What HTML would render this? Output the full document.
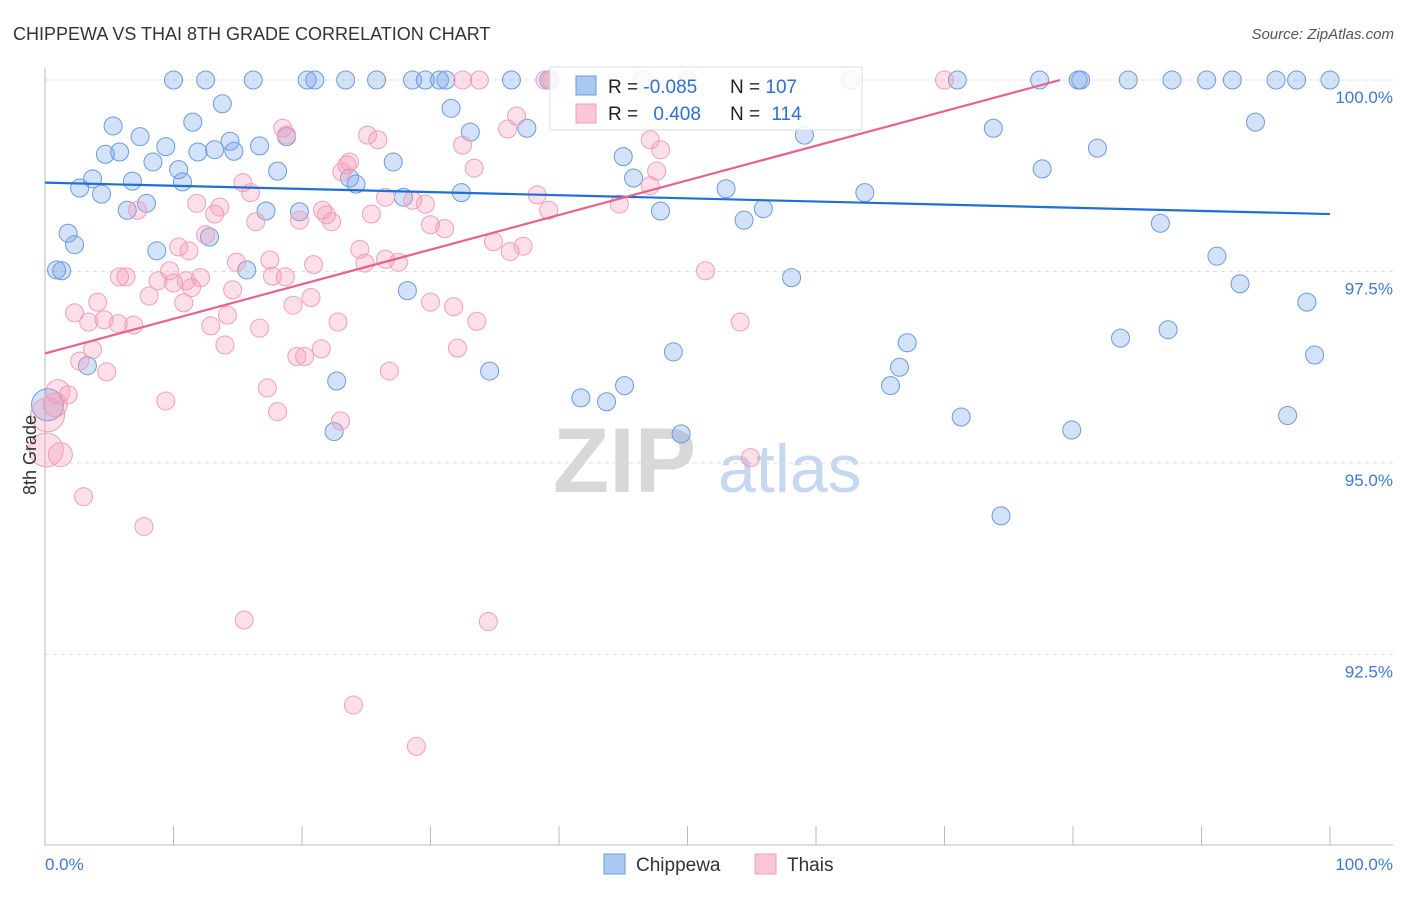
<!DOCTYPE html>
<html><head><meta charset="utf-8"><style>
body{margin:0;background:#fff;font-family:"Liberation Sans",sans-serif}
svg text{font-family:"Liberation Sans",sans-serif}
</style></head><body>
<svg id="c" width="1406" height="892" xmlns="http://www.w3.org/2000/svg">
<text x="13" y="40" font-size="18" fill="#333">CHIPPEWA VS THAI 8TH GRADE CORRELATION CHART</text>
<text x="1394" y="39" font-size="15" fill="#555" text-anchor="end" font-style="italic">Source: ZipAtlas.com</text>
<g>
<text x="553" y="492" font-size="92" fill="#d8d8d8" font-family="Liberation Serif" font-weight="bold">ZIP</text>
<text x="718" y="492" font-size="68" fill="#c6d8f0">atlas</text>
</g>
<g id="grid"></g><g id="axes"></g><g id="pts"></g><g id="lines"></g>
<text x="36" y="455" font-size="18" fill="#333" text-anchor="middle" transform="rotate(-90 36 455)" dy="0">8th Grade</text>
<g>
<rect x="550" y="67" width="312" height="63" fill="#fff" fill-opacity="0.85" stroke="#ddd"/>
<rect x="576" y="76" width="20" height="19" fill="#aac8f2" stroke="#6a9be0"/>
<rect x="576" y="104" width="20" height="19" fill="#fbc6d6" stroke="#f0a0b8"/>
<text x="608" y="93" font-size="19" fill="#222">R = <tspan fill="#2f6fd0">-0.085</tspan></text>
<text x="730" y="93" font-size="19" fill="#222">N = <tspan fill="#2f6fd0">107</tspan></text>
<text x="608" y="120" font-size="19" fill="#222">R = <tspan fill="#2f6fd0" dx="10">0.408</tspan></text>
<text x="730" y="120" font-size="19" fill="#222">N = <tspan fill="#2f6fd0" dx="6">114</tspan></text>
</g>
<g>
<rect x="604" y="854" width="21" height="20" fill="#aac8f2" stroke="#6a9be0"/>
<text x="636" y="871" font-size="19" fill="#333">Chippewa</text>
<rect x="755" y="854" width="21" height="20" fill="#fbc6d6" stroke="#f0a0b8"/>
<text x="787" y="871" font-size="19" fill="#333">Thais</text>
</g>
</svg>
<script>
const yTicks=[100,97.5,95,92.5];
const yTickLabels=["100.0%","97.5%","95.0%","92.5%"];
const xTicks=[0,10,20,30,40,50,60,70,80,90,100];
const chipX=[10,12.5,16.2,20.4,21.0,23.4,25.8,28.6,29.6,30.7,31.2,36.3,39.2,46.5,50,62.7,71.0,77.4,80.4,80.6,84.3,87.7,90.4,92.4,95.8,97.4,100,
13.8,5.3,11.5,31.6,7.4,4.7,5.8,9.4,11.9,13.2,14.4,14.7,16.7,18.8,33.1,37.5,8.4,10.4,10.7,3.7,2.7,4.4,6.8,7.9,6.4,17.2,18.1,19.8,23.7,24.2,27.1,27.9,32.4,45.0,45.8,47.9,53.0,54.4,55.9,59.1,63.8,73.8,77.6,81.9,86.8,91.2,94.2,93.0,98.2,98.8,87.4,83.7,67.1,66.5,65.8,71.3,74.4,79.9,96.7,1.8,2.3,8.7,12.8,15.7,0.9,1.3,28.2,58.1,48.9,41.7,43.7,45.1,49.5,34.6,22.7,22.5,3.3,0.2];
const chipY=[100,100,100,100,100,100,100,100,100,100,100,100,100,100,100,100,100,100,100,100,100,100,100,100,100,100,100,
99.69,99.40,99.45,99.63,99.26,99.03,99.06,99.13,99.06,99.09,99.20,99.07,99.14,99.26,99.32,99.37,98.93,98.83,98.67,98.71,98.59,98.51,98.68,98.39,98.30,98.29,98.81,98.28,98.72,98.64,98.93,98.47,98.53,99.00,98.72,98.29,98.58,98.17,98.32,99.28,98.53,99.37,98.84,99.11,98.13,97.70,99.45,97.34,97.10,96.41,96.74,96.63,96.57,96.25,96.01,95.60,94.31,95.43,95.62,98.00,97.85,97.77,97.95,97.52,97.52,97.51,97.25,97.42,96.45,95.85,95.80,96.01,95.38,96.20,96.07,95.41,96.27,95.76];
const thaiX=[32.5,33.8,38.9,39.4,50.0,70.0,36.7,36.0,32.5,33.4,25.9,25.1,23.5,23.7,23.1,18.5,18.8,47.1,47.9,47.6,47.1,44.7,38.3,39.2,26.5,25.4,28.6,29.6,15.4,16.0,11.8,13.2,13.6,16.4,19.8,21.6,21.9,22.3,30.0,31.1,12.5,10.4,11.2,24.5,24.9,26.5,27.5,34.9,36.2,37.2,7.2,5.8,6.3,9.7,8.8,10.0,11.0,12.1,14.9,17.5,18.7,17.7,20.9,4.1,2.3,3.4,4.6,5.7,6.9,8.1,11.4,10.8,14.6,19.3,20.7,30.0,31.8,33.6,22.8,16.7,12.9,14.2,14.0,3.7,2.7,4.8,21.5,20.2,19.6,17.3,18.1,26.8,32.1,9.4,1.8,1.0,0.8,0.2,1.2,0.1,3.0,7.7,23.0,15.5,34.5,24.0,28.9,54.9,51.4,54.1];
const thaiY=[100,100,100,100,100,100,99.53,99.36,99.15,98.85,99.22,99.28,98.89,98.93,98.80,99.37,99.28,99.22,99.09,98.81,98.62,98.38,98.50,98.30,98.47,98.25,98.43,98.38,98.66,98.53,98.39,98.25,98.34,98.15,98.17,98.30,98.24,98.15,98.11,98.06,97.98,97.82,97.77,97.79,97.61,97.66,97.62,97.89,97.76,97.83,98.30,97.43,97.43,97.51,97.38,97.35,97.38,97.42,97.62,97.65,97.43,97.44,97.59,97.10,96.96,96.84,96.87,96.82,96.80,97.18,97.29,97.09,97.26,97.06,97.16,97.10,97.04,96.85,96.84,96.76,96.79,96.93,96.54,96.48,96.33,96.19,96.49,96.39,96.39,95.98,95.67,96.20,96.50,95.81,95.89,95.93,95.76,95.63,95.11,95.17,94.56,94.17,95.55,92.95,92.93,91.84,91.30,95.07,97.51,96.84];
const chipTrend=[98.66,98.25];
const thaiTrend=[96.43,100.0,79];
const NS="http://www.w3.org/2000/svg";
const X=v=>45+v*12.85, Y=v=>80+(100-v)*76.6;
function mk(t,a,p){const e=document.createElementNS(NS,t);for(const k in a)e.setAttribute(k,a[k]);p.appendChild(e);return e;}
const grid=document.getElementById('grid'),axes=document.getElementById('axes'),pts=document.getElementById('pts'),lines=document.getElementById('lines');
yTicks.forEach((v,i)=>{
 const l=mk('line',{x1:45,x2:1393,y1:Y(v),y2:Y(v),stroke:'#ddd','stroke-dasharray':'4,4'},grid);
 
 
 const t=mk('text',{x:1393,y:Y(v)+23,'font-size':17,fill:'#3f78d4','text-anchor':'end'},axes);
 t.textContent=yTickLabels[i];
 
 
});
const ax=mk('line',{x1:45,x2:1393,y1:845,y2:845,stroke:'#bbb'},axes);


const ay=mk('line',{x1:45,x2:45,y1:68,y2:845,stroke:'#bbb'},axes);


xTicks.forEach(v=>{
 const l=mk('line',{x1:X(v),x2:X(v),y1:826,y2:845,stroke:'#bbb'},axes);
 
 
});
[[0,'0.0%','start',45],[100,'100.0%','end',1393]].forEach(d=>{
 const t=mk('text',{x:d[3],y:870,'font-size':17,fill:'#3f78d4','text-anchor':d[2]},axes);
 t.textContent=d[1];
 
 
});
chipX.forEach((x,i)=>{
 const r=(x<0.5&&chipY[i]<96)?16:9;
 const c=mk('circle',{cx:X(x),cy:Y(chipY[i]),r:r,fill:'rgba(110,160,235,0.3)',stroke:'#6a9be0','stroke-width':1},pts);
 
 
});
thaiX.forEach((x,i)=>{
 const big=x<=1.2&&thaiY[i]<96;
 const r=big?(x<0.3?17:12):9;
 const c=mk('circle',{cx:X(x),cy:Y(thaiY[i]),r:r,fill:'rgba(245,150,180,0.3)',stroke:'#f0a0b8','stroke-width':1},pts);
 
 
});
const l1=mk('line',{x1:X(0),y1:Y(chipTrend[0]),x2:X(100),y2:Y(chipTrend[1]),stroke:'#1f6fd6','stroke-width':2.2},lines);


const l2=mk('line',{x1:X(0),y1:Y(thaiTrend[0]),x2:X(thaiTrend[2]),y2:Y(thaiTrend[1]),stroke:'#e8608f','stroke-width':2.2},lines);


</script>
</body></html>
